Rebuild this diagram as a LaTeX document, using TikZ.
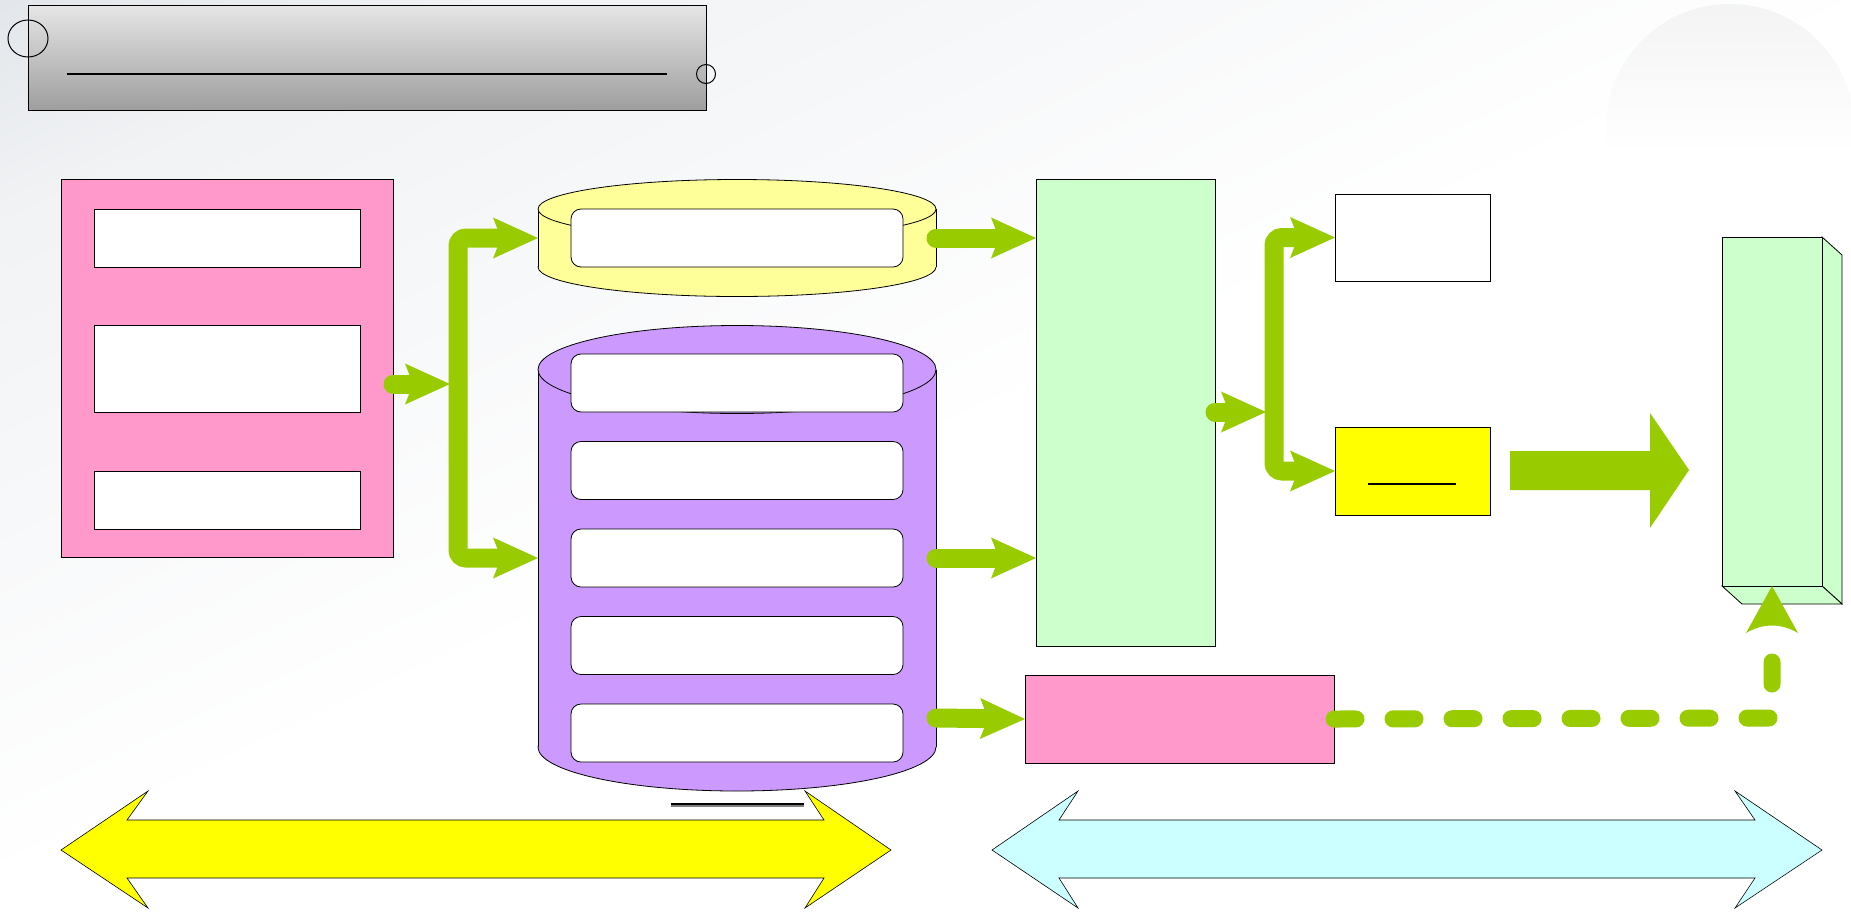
\documentclass[tikz,border=0pt]{standalone}
\usetikzlibrary{arrows.meta}
\definecolor{agreen}{HTML}{99CC00}
\definecolor{pinkc}{HTML}{FF99CC}
\definecolor{ycyl}{HTML}{FFFF99}
\definecolor{pcyl}{HTML}{CC99FF}
\definecolor{lgreen}{HTML}{CCFFCC}
\definecolor{lcyan}{HTML}{CCFFFF}
\definecolor{yel}{HTML}{FFFF00}
\definecolor{bgg}{HTML}{C6CDD5}
\colorlet{bgm}{white!75!bgg}
\definecolor{ttop}{HTML}{E6E6E6}
\definecolor{tbot}{HTML}{9E9E9E}
\definecolor{sph}{HTML}{EAEAEA}
\pgfdeclareverticalshading{bgshade}{100bp}{color(0bp)=(white); color(50bp)=(white); color(75bp)=(bgm); color(100bp)=(bgg)}
\pgfdeclareverticalshading{sphshade}{100bp}{color(0bp)=(white); color(45bp)=(white); color(100bp)=(sph)}
\newcommand\drawcyl[6]{%
  \filldraw[fill=#1, line width=0.8pt] (#2,#4) ellipse[x radius=#5, y radius=#6];
  \fill[#1] (#2-#5,#3) rectangle (#2+#5,#4);
  \draw[line width=0.8pt] (#2-#5,#3) -- (#2-#5,#4) (#2+#5,#3) -- (#2+#5,#4);
  \filldraw[fill=#1, line width=0.8pt] (#2,#3) ellipse[x radius=#5, y radius=#6];
}
\begin{document}
\begin{tikzpicture}[x=1pt,y=-1pt,
  box/.style={draw=black, line width=0.8pt, inner sep=0pt, outer sep=0pt},
  rbox/.style={box, fill=white, rounded corners=10pt, minimum width=332pt, minimum height=58pt},
  wbox/.style={box, fill=white, minimum width=266pt},
  garrow/.style={draw=agreen, line width=19pt, line cap=round, -{Stealth[length=45pt, width=41pt, inset=8pt, line width=0pt, fill=agreen]}},
  gfork/.style={draw=agreen, line width=19pt, rounded corners=8pt, {Stealth[length=45pt, width=41pt, inset=8pt, line width=0pt, fill=agreen]}-{Stealth[length=45pt, width=41pt, inset=8pt, line width=0pt, fill=agreen]}},
  blockarrow/.style={draw=black, line width=0.6pt}
]
\useasboundingbox (0,0) rectangle (1851,911);
% background
\shade[shading=bgshade, shading angle=25] (0,0) rectangle (1851,911);
\shade[shading=sphshade] (1730,128) circle[radius=124];

% title
\node[box, line width=1pt, top color=ttop, bottom color=tbot, minimum width=678pt, minimum height=105pt] (title) at (367,57.5) {};
\draw[line width=1.3pt] (67,74) -- (667,74);
\draw[line width=1pt] (28,38.5) ellipse[x radius=20, y radius=18.5];
\draw[line width=1pt] (706,74) ellipse[x radius=9.5, y radius=9.5];

% left pink block
\node[box, fill=pinkc, minimum width=332pt, minimum height=378pt] (pinkL) at (227,368) {};
\node[wbox, minimum height=58pt] (wL1) at (227,238) {};
\node[wbox, minimum height=87pt] (wL2) at (227,368.5) {};
\node[wbox, minimum height=58pt] (wL3) at (227,500) {};

% cylinders
\drawcyl{ycyl}{737}{209}{267}{199}{29.5}
\drawcyl{pcyl}{737}{369.5}{747}{199}{44}
\coordinate (ycW) at (538,238);
\coordinate (ycE) at (936,238);
\coordinate (pcW) at (538,558);
\coordinate (pcE1) at (936,558);
\coordinate (pcE2) at (936,718);
\node[rbox] (wY) at (737,238) {};
\node[rbox] (wP1) at (737,383) {};
\node[rbox] (wP2) at (737,470.5) {};
\node[rbox] (wP3) at (737,558) {};
\node[rbox] (wP4) at (737,645.5) {};
\node[rbox] (wP5) at (737,733) {};
\draw[gray, line width=1.2pt] (671,806) -- (804,806);
\draw[black, line width=1.2pt] (671,804) -- (804,804);

% middle green block
\node[box, fill=lgreen, minimum width=179pt, minimum height=467pt] (gM) at (1125.5,412.5) {};
% right boxes
\node[box, fill=white, minimum width=155pt, minimum height=87pt] (wR) at (1412.5,237.5) {};
\node[box, fill=yel, minimum width=155pt, minimum height=88pt] (yR) at (1412.5,471) {};
\draw[line width=1.3pt] (1368,484) -- (1456,484);
% bottom pink block
\node[box, fill=pinkc, minimum width=309pt, minimum height=88pt] (pinkB) at (1179.5,719) {};

% 3D box
\filldraw[fill=lgreen, line width=0.8pt] (1822,237) -- (1842,255) -- (1842,604) -- (1822,586) -- cycle;
\filldraw[fill=lgreen, line width=0.8pt] (1722,586) -- (1742,604) -- (1842,604) -- (1822,586) -- cycle;
\node[box, fill=lgreen, minimum width=100pt, minimum height=349pt] (box3) at (1772,411.5) {};

% green connectors
\coordinate (f1) at (450,384);
\draw[garrow] (pinkL.east |- f1) -- (f1);
\draw[gfork] (ycW) -- (458,238) -- (458,558) -- (pcW);
\draw[garrow] (ycE) -- (ycE -| gM.west);
\draw[garrow] (pcE1) -- (pcE1 -| gM.west);
\draw[garrow] (pcE2) -- (pinkB.west);
\coordinate (f2) at (1266,412);
\draw[garrow] (gM.east |- f2) -- (f2);
\draw[gfork] (wR.west) -- (1274,237.5) -- (1274,471) -- (yR.west);

% big block arrow
\fill[agreen] (1510,451) -- (1650,451) -- (1650,413) -- (1689,470) -- (1650,528) -- (1650,490) -- (1510,490) -- cycle;

% dashed connector
\coordinate (dc) at (1772,718);
\draw[agreen, line width=17pt, line cap=round, dash pattern=on 22pt off 37pt] (pinkB.east) -- (dc) -- (1772,652);
\fill[agreen] (box3.south) -- (1798,633) .. controls (1781,623) and (1763,623) .. (1746,633) -- cycle;

% bottom double arrows
\filldraw[fill=yel, blockarrow] (61,850) -- (148,791) -- (127,820) -- (824,820) -- (805,791) -- (891,850) -- (805,908) -- (824,878) -- (127,878) -- (148,908) -- cycle;
\filldraw[fill=lcyan, blockarrow] (992,850) -- (1078,791) -- (1059,820) -- (1755,820) -- (1735,791) -- (1822,850) -- (1735,908) -- (1755,878) -- (1059,878) -- (1078,908) -- cycle;
\end{tikzpicture}
\end{document}
